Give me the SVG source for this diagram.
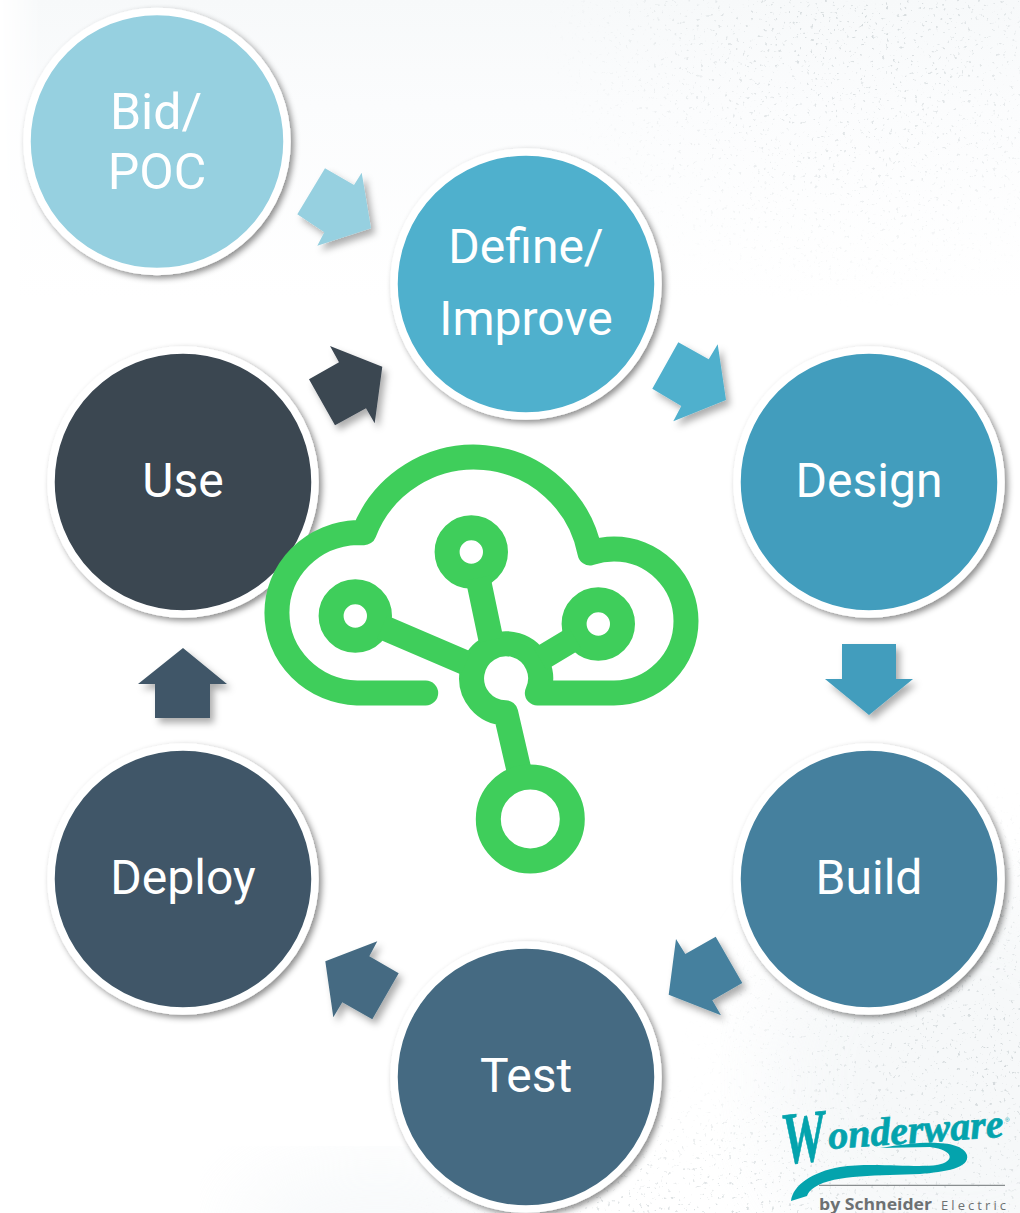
<svg xmlns="http://www.w3.org/2000/svg" width="1020" height="1213" viewBox="0 0 1020 1213">
<style>
.n{stroke:#fff;stroke-width:7.5;filter:url(#sh)}
.l{font-family:Roboto,"Liberation Sans",sans-serif;font-size:48px;fill:#fff;text-anchor:middle}
.a{filter:url(#sa)}
.g{fill:none;stroke:#3fce5b;stroke-width:25;stroke-linecap:round;stroke-linejoin:round}
</style>
<defs>
<filter id="sh" x="-10%" y="-10%" width="125%" height="125%"><feDropShadow dx="3" dy="3" stdDeviation="3" flood-color="#000" flood-opacity="0.45"/></filter>
<filter id="sa" x="-20%" y="-20%" width="150%" height="150%"><feDropShadow dx="4" dy="5" stdDeviation="3.5" flood-color="#000" flood-opacity="0.32"/></filter>
<filter id="tex" x="0" y="0" width="100%" height="100%"><feTurbulence type="fractalNoise" baseFrequency="0.28" numOctaves="2" seed="11"/><feColorMatrix values="0 0 0 0 0.55  0 0 0 0 0.6  0 0 0 0 0.62  0 0 0 9 -6"/><feGaussianBlur stdDeviation="0.7"/></filter>
<filter id="blur"><feGaussianBlur stdDeviation="40"/></filter>
<linearGradient id="top" x1="0" y1="0" x2="0" y2="1"><stop offset="0" stop-color="#f7f9fa"/><stop offset="0.35" stop-color="#fbfcfd"/><stop offset="1" stop-color="#fff"/></linearGradient>
<linearGradient id="topx" x1="0" y1="0" x2="1" y2="0"><stop offset="0" stop-color="#fff" stop-opacity="0"/><stop offset="0.04" stop-color="#fff"/></linearGradient>
<mask id="mt"><rect width="1020" height="300" fill="url(#topx)"/></mask>
<radialGradient id="tr" cx="0.5" cy="0.5" r="0.5"><stop offset="0" stop-color="#fff"/><stop offset="0.5" stop-color="#fff" stop-opacity="0.55"/><stop offset="1" stop-color="#fff" stop-opacity="0"/></radialGradient>
<mask id="m"><ellipse cx="860" cy="10" rx="320" ry="300" fill="url(#tr)"/><ellipse cx="1000" cy="1060" rx="320" ry="280" fill="url(#tr)"/><ellipse cx="700" cy="1230" rx="300" ry="150" fill="url(#tr)"/></mask>
</defs>
<g id="background">
<rect width="1020" height="1213" fill="#fff"/>
<rect width="1020" height="300" fill="url(#top)" mask="url(#mt)"/>
<ellipse cx="960" cy="1080" rx="200" ry="200" fill="#f1f4f6" opacity="0.6" filter="url(#blur)"/>
<ellipse cx="380" cy="1230" rx="150" ry="70" fill="#f3f6f8" opacity="0.6" filter="url(#blur)"/>
<rect width="1020" height="1213" filter="url(#tex)" mask="url(#m)" opacity="0.7"/>
</g>
<g id="connectors">
<polygon class="a" fill="#96d0e0" points="325,168.3 354,185 361.7,172.7 371,228.3 317.3,245.7 324.3,232.3 297.3,214.3"/>
<polygon class="a" fill="#4fb0cd" points="678.3,342.3 708.7,359.3 717.7,344.3 726,400 673.3,421.3 681.3,406 652.3,388.7"/>
<polygon class="a" fill="#429dbd" points="842,644 896,644 896,679 913,679 869,715 825,679 842,679"/>
<polygon class="a" fill="#45809e" points="715.7,936.7 685.3,954 676,939 668.7,994.7 721,1015.3 712.3,1000.3 742.3,983"/>
<polygon class="a" fill="#446b82" points="377.3,941.3 369.3,956.3 398.7,973.3 372.3,1019.3 342.3,1002.3 333.3,1017.3 325.3,961.3"/>
<polygon class="a" fill="#3f5768" points="183,648 227,684 210,684 210,718 155,718 155,684 138,684"/>
<polygon class="a" fill="#3a4651" points="330,346 382.3,366.7 374.7,423.3 366,408.3 335,425.3 309,379.3 339,362.3"/>
</g>
<g id="node-bid"><circle class="n" cx="157" cy="141.5" r="130" fill="#96d0e0"/><text class="l" x="156" y="129" style="font-size:50px">Bid/</text><text class="l" x="157" y="189" style="font-size:50px">POC</text></g>
<g id="node-define"><circle class="n" cx="526" cy="284" r="132" fill="#4fb0cd"/><text class="l" x="526" y="263">Define/</text><text class="l" x="526" y="335">Improve</text></g>
<g id="node-design"><circle class="n" cx="869" cy="482" r="132" fill="#429dbd"/><text class="l" x="869" y="497">Design</text></g>
<g id="node-build"><circle class="n" cx="869" cy="879" r="132" fill="#45809e"/><text class="l" x="869" y="894">Build</text></g>
<g id="node-test"><circle class="n" cx="526" cy="1077" r="132" fill="#446b82"/><text class="l" x="526" y="1092">Test</text></g>
<g id="node-deploy"><circle class="n" cx="183" cy="879" r="132" fill="#3f5768"/><text class="l" x="183" y="894">Deploy</text></g>
<g id="node-use"><circle class="n" cx="183" cy="482" r="132" fill="#3a4651"/><text class="l" x="183" y="497">Use</text></g>
<g id="cloud-icon" class="g">
<path d="M425.7 693H357A83 80.3 0 0 1 357 532.5L364 532.7A118 118 0 0 1 590 553Q602 549 614 549A72 72 0 0 1 614 693H537.3A34.5 34.5 0 1 0 505.7 712.8L530.3 819"/>
<circle cx="471.3" cy="552" r="24.2"/>
<circle cx="355.3" cy="616" r="24.2"/>
<circle cx="598.3" cy="624" r="24.2"/>
<circle cx="530.3" cy="819" r="42" fill="#fff"/>
<path stroke-linecap="butt" d="M478 578L491 640M382 627L466 663M575 638L540 659"/>
</g>
<g id="wonderware-logo">
<path fill="#04a3ad" d="M791 1201C793 1185 812 1172 840 1167C870 1162 915 1168 937 1165C955 1162 955 1150 930 1147L880 1148C925 1140 962 1140 967 1155C970 1168 945 1172 920 1174C880 1176 835 1174 815 1187C810 1190 808 1193 807 1196Z"/>
<g fill="#04a3ad" stroke="#04a3ad" stroke-width="0.7" font-family="'Liberation Serif',serif" font-weight="bold" font-style="italic">
<text transform="translate(784 1164) rotate(-6) scale(0.67 1)" font-size="74">W</text>
<text transform="translate(829 1149) rotate(-4)" font-size="40">onderware</text>
</g>
<text x="1005" y="1122" font-family="'Liberation Sans',sans-serif" font-size="6" fill="#04a3ad">®</text>
<line x1="819" y1="1185.3" x2="1005" y2="1185.3" stroke="#6f7476" stroke-width="1"/>
<text x="819" y="1210" font-family="'Open Sans','Liberation Sans',sans-serif" font-weight="bold" font-size="16" fill="#6d7173" textLength="113" lengthAdjust="spacingAndGlyphs">by Schneider</text>
<text x="941" y="1210" font-family="'Open Sans','Liberation Sans',sans-serif" font-size="13" fill="#6d7173" textLength="65">Electric</text>
</g>
</svg>
